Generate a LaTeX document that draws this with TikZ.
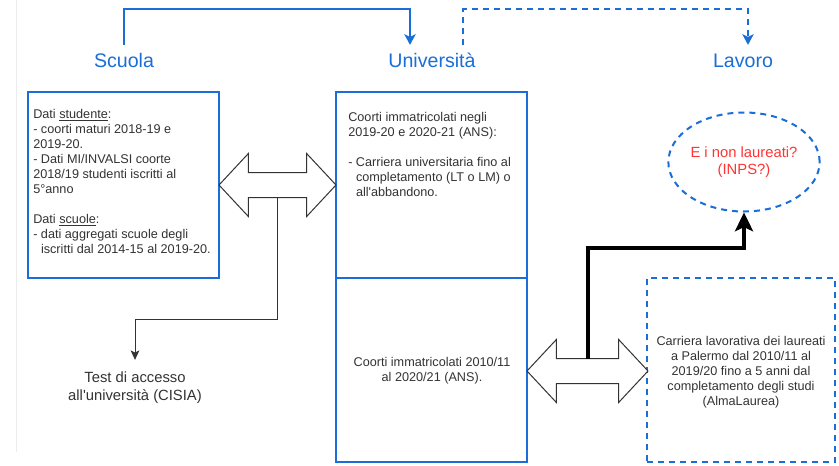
\documentclass[tikz,border=0pt]{standalone}
\usepackage{fontspec}
\setmainfont{Liberation Sans}
\usetikzlibrary{shapes.geometric,shapes.arrows,arrows.meta,calc}
\definecolor{myblue}{HTML}{1A6ED8}
\definecolor{txt}{HTML}{333333}
\definecolor{myred}{HTML}{FF3333}
\begin{document}
\begin{tikzpicture}[x=0.75pt,y=-0.75pt,
 heading/.style={font=\fontsize{14.7pt}{17pt}\selectfont, text=myblue, inner sep=0pt, text height=10.6pt, text depth=0pt, outer ysep=6pt, anchor=base},
 bluebox/.style={draw=myblue, line width=1.5pt, inner sep=0pt, outer sep=0pt, minimum width=143.25pt},
 bluedash/.style={dash pattern=on 4.5pt off 3.75pt},
 dashbox/.style={bluebox, bluedash},
 body/.style={font=\fontsize{9.5pt}{11.25pt}\selectfont, text=txt, inner sep=0pt},
 darrow/.style={double arrow, draw=txt, fill=white, line width=0.75pt, inner xsep=0pt, inner ysep=9pt, double arrow head extend=14.25pt, double arrow tip angle=94},
 blueconn/.style={draw=myblue, line width=1.5pt, -{Stealth[length=8pt,width=8.5pt,inset=2pt]}},
]
\useasboundingbox (0,0) rectangle (839,465);
\fill[white] (0,0) rectangle (839,465);
\draw[gray!15, line width=0.75pt] (16,0) -- (16,452);

% headings
\node[heading] (scuola) at (124,67) {Scuola};
\node[heading] (univ) at (432,67) {Università};
\node[heading] (lavoro) at (743,67) {Lavoro};

% boxes
\node[bluebox, minimum height=139.5pt] (lbox) at (123.5,185) {};
\node[bluebox, minimum height=139.5pt] (mtop) at (431.5,185) {};
\node[bluebox, minimum height=138pt] (mbot) at (431.5,370) {};
\node[dashbox, minimum width=141pt, minimum height=138pt] (rbox) at (741,370) {};
\node[ellipse, draw=myblue, line width=1.5pt, bluedash, minimum width=103.5pt, minimum height=74.25pt, inner sep=0pt, font=\fontsize{11.1pt}{12.75pt}\selectfont, text=myred, align=center] (ell) at (744,162) {E i non laureati?\\(INPS?)};

% texts
\node[body, anchor=north west, align=left] (ltext) at (33,109) {Dati \underline{studente}:\\- coorti maturi 2018-19 e\\2019-20.\\- Dati MI/INVALSI coorte\\2018/19 studenti iscritti al\\5°anno\\[11.25pt]Dati \underline{scuole}:\\- dati aggregati scuole degli\\\hphantom{- }iscritti dal 2014-15 al 2019-20.};
\node[body, anchor=north west, align=left] (mtext) at (348,112) {Coorti immatricolati negli\\2019-20 e 2020-21 (ANS):\\[11.25pt]- Carriera universitaria fino al\\\hphantom{- }completamento (LT o LM) o\\\hphantom{- }all\textquotesingle abbandono.};
\node[body, align=center] (mbtext) at (432,371) {Coorti immatricolati 2010/11\\al 2020/21 (ANS).};
\node[body, align=center] (rtext) at (741,372) {Carriera lavorativa dei laureati\\a Palermo dal 2010/11 al\\2019/20 fino a 5 anni dal\\completamento degli studi\\(AlmaLaurea)};
\node[font=\fontsize{11.1pt}{13.5pt}\selectfont, text=txt, align=center, inner sep=0pt] (test) at (135,388) {Test di accesso\\all\textquotesingle università (CISIA)};

% double arrows
\node[darrow, minimum height=87.75pt] (la) at (277.5,185) {};
\node[darrow, minimum height=90.75pt] (ra) at (587.5,371) {};

% connectors
\draw[blueconn] (scuola.north) -- ++(0,-35.4) -| ([xshift=-16.5pt]univ.north);
\draw[blueconn, bluedash] ([xshift=23.25pt]univ.north) -- ++(0,-35.4) -| ([xshift=3.75pt]lavoro.north);
\draw[draw=txt, line width=0.75pt, -{Stealth[length=7pt,width=6.5pt,inset=1.5pt]}] ([yshift=-9pt]la.center) -- ++(0,122) -| ([yshift=9pt]test.north);
\draw[line width=3pt, -{Stealth[length=14pt,width=13.5pt,inset=3pt]}] ([yshift=9pt]ra.center) -- ++(0,-111) -| (ell.south);
\end{tikzpicture}
\end{document}
